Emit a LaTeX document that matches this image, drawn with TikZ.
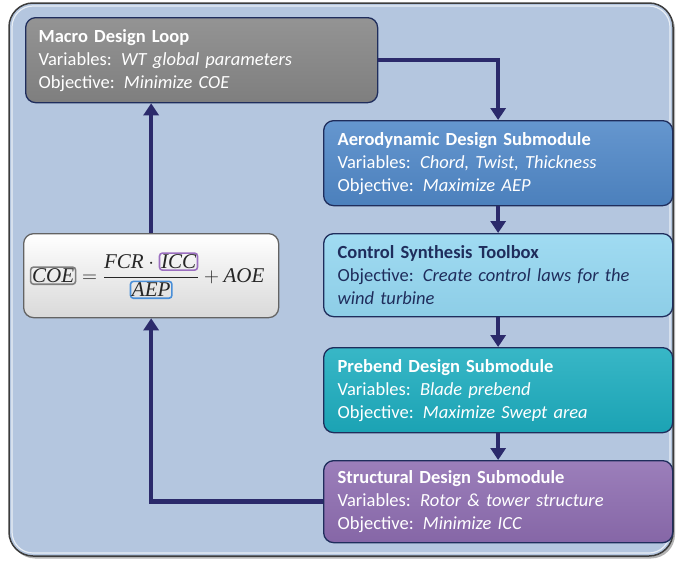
\documentclass[tikz,border=0pt]{standalone}
\usepackage{amsmath}
\usepackage{fontspec}
\setmainfont{Carlito}
\newfontfamily\fmlfont{Liberation Serif}
\usetikzlibrary{arrows.meta,positioning,shadows}

\definecolor{panelblue}{HTML}{B4C6DF}
\definecolor{panelrim}{HTML}{3C3C3C}
\definecolor{navyline}{HTML}{1F2D5C}
\definecolor{flowblue}{HTML}{2B2A6B}
\definecolor{macrogray}{HTML}{858585}
\definecolor{aeroblue}{HTML}{5088C8}
\definecolor{ctrlsky}{HTML}{93D6F0}
\definecolor{prebendteal}{HTML}{1DADBF}
\definecolor{structpurple}{HTML}{8E6DB1}
\definecolor{termgray}{HTML}{7F7F7F}
\definecolor{termpurple}{HTML}{9B6FC0}
\definecolor{termblue}{HTML}{4A8FD8}

\newcommand{\fml}[1]{\text{\fmlfont\itshape #1}}
\newcommand{\termbox}[2]{\tikz[baseline=(term.base)]\node[draw=#1, line width=1.6pt, rounded corners=3pt, inner sep=1.5pt] (term) {\fmlfont\itshape #2};}

\tikzset{
    module/.style={draw=navyline, line width=1.3pt, rounded corners=10pt, anchor=north west,
        text width=321pt, inner xsep=14pt, inner ysep=4pt, align=left, text=white,
        font=\fontsize{18.5}{23}\selectfont},
    flow/.style={flowblue, line width=4.5pt, -{Triangle[width=15pt,length=12pt]}},
}

\begin{document}
\begin{tikzpicture}[x=1pt, y=-1pt]
    \useasboundingbox (0,0) rectangle (676,562);
    \draw [fill=panelblue, draw=panelrim, line width=1.5pt, rounded corners=24pt,
        drop shadow={shadow xshift=2pt, shadow yshift=-2.5pt, opacity=.6}] (9,3) rectangle (673,556);
    \draw [white, opacity=.7, line width=1.2pt, rounded corners=21pt] (12,6) rectangle (670,553);

    \node [module, text width=326pt, inner xsep=13pt, minimum height=85pt, top color=macrogray!88!white, bottom color=macrogray!95!black] (macro) at (25,17)
        {\textbf{Macro Design Loop}\\ Variables: \textit{WT global parameters}\\ Objective: \textit{Minimize COE}};
    \node [module, minimum height=85pt, top color=aeroblue!88!white, bottom color=aeroblue!94!black] (aero) at (323,120)
        {\textbf{Aerodynamic Design Submodule}\\ Variables: \textit{Chord, Twist, Thickness}\\ Objective: \textit{Maximize AEP}};
    \node [module, minimum height=83pt, text=navyline, top color=ctrlsky!88!white, bottom color=ctrlsky!96!black] (ctrl) at (323,233)
        {\textbf{Control Synthesis Toolbox}\\ Objective: \textit{Create control laws for the}\\ \textit{wind turbine}};
    \node [module, minimum height=85pt, top color=prebendteal!88!white, bottom color=prebendteal!94!black] (prebend) at (323,347)
        {\textbf{Prebend Design Submodule}\\ Variables: \textit{Blade prebend}\\ Objective: \textit{Maximize Swept area}};
    \node [module, minimum height=82pt, top color=structpurple!88!white, bottom color=structpurple!94!black] (struct) at (323,460)
        {\textbf{Structural Design Submodule}\\ Variables: \textit{Rotor \& tower structure}\\ Objective: \textit{Minimize ICC}};

    \node [draw=panelrim!80, line width=1.3pt, rounded corners=10pt, anchor=north west, minimum width=255pt, minimum height=84pt,
        top color=white, bottom color=black!15] (coebox) at (23,233) {};
    \node [font=\fontsize{21}{24}\selectfont, text=black!85] (coe) at ([xshift=-4pt]coebox.center)
        {$\termbox{termgray}{COE} = \dfrac{\fml{FCR}\cdot\termbox{termpurple}{ICC}}{\termbox{termblue}{AEP}} + \fml{AOE}$};

    \draw [flow] (macro.east) -| (aero.north);
    \draw [flow] (aero.south) -- (ctrl.north);
    \draw [flow] (ctrl.south) -- (prebend.north);
    \draw [flow] (prebend.south) -- (struct.north);
    \draw [flow] (struct.west) -| (coebox.south);
    \draw [flow] (coebox.north) -- (coebox.north |- macro.south);
\end{tikzpicture}
\end{document}
